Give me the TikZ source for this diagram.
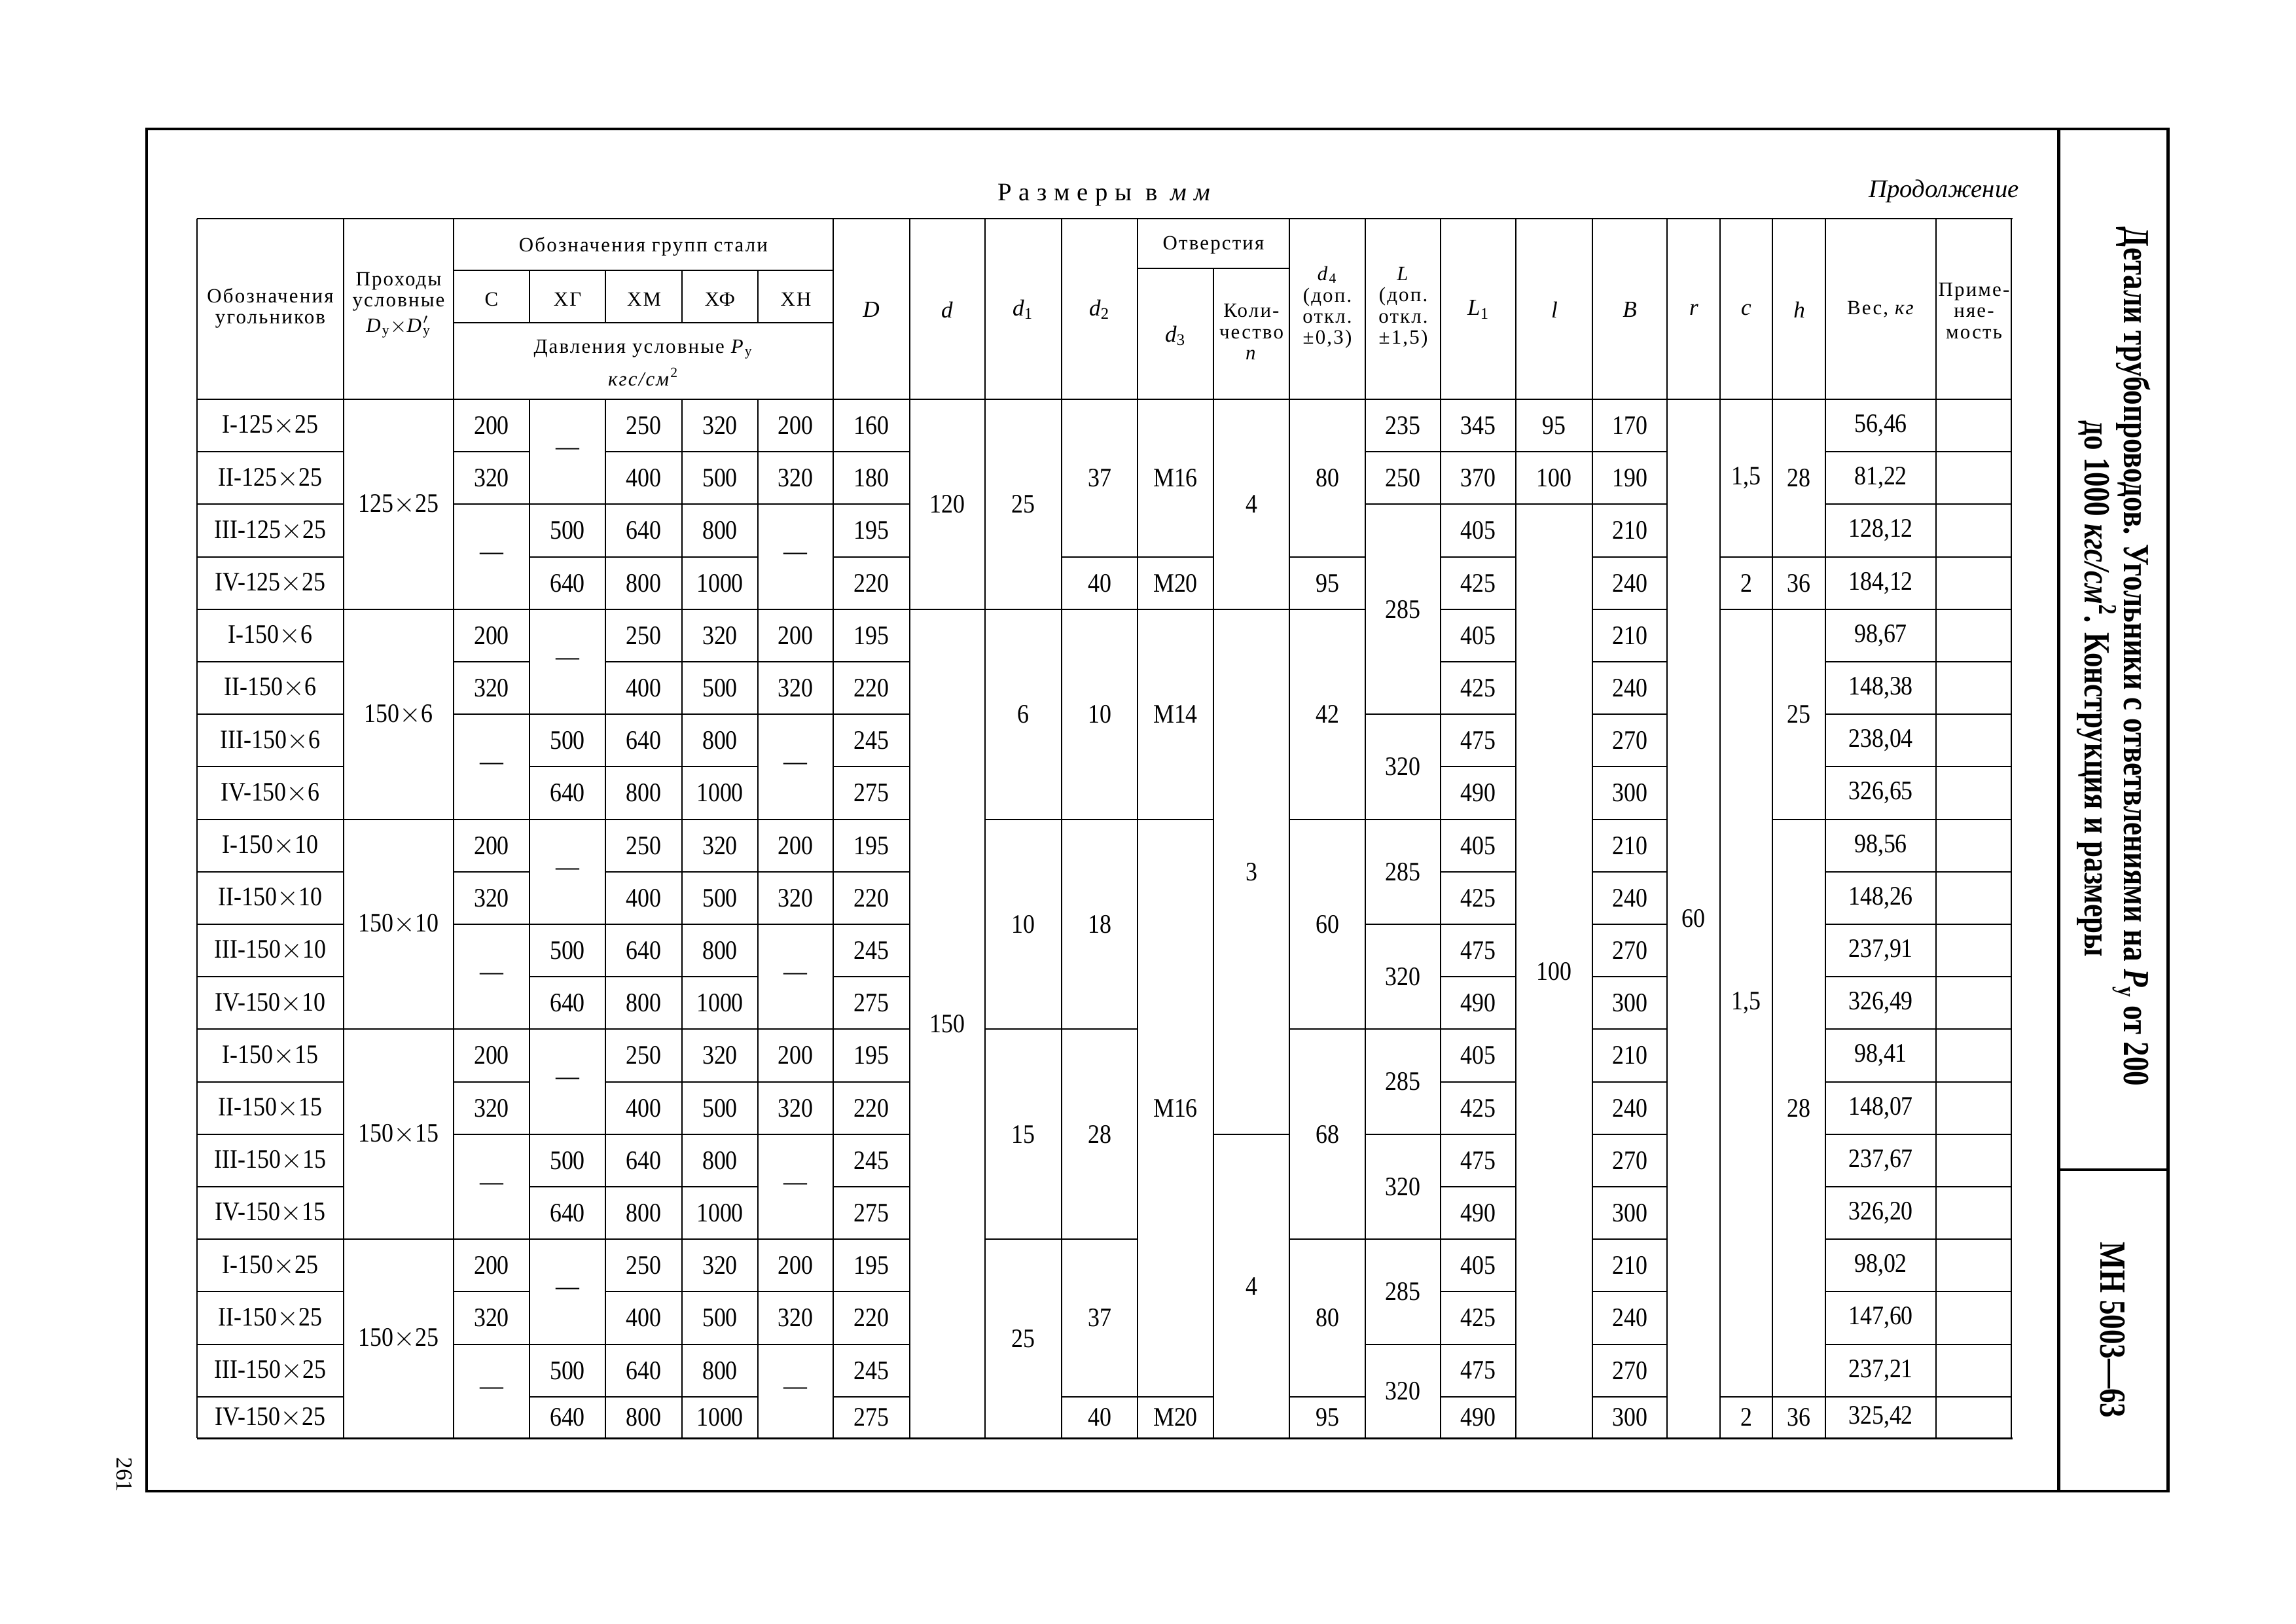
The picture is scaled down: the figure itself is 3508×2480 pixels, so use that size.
\documentclass[tikz,border=0pt]{standalone}
\usepackage{fontspec}
\setmainfont{Liberation Serif}
\newfontfamily\numf{Liberation Serif}[FakeStretch=0.88]
\newfontfamily\titlef{Liberation Serif}[FakeStretch=0.8]
\newfontfamily\hdrf{Liberation Serif}[LetterSpace=7]
\newfontfamily\spacedf{Liberation Serif}[LetterSpace=28]
\def\Xs{{301,525,693,809,925,1042,1158,1273,1390,1505,1622,1738,1854,1970,2086,2201,2316,2433,2547,2628,2708,2789,2958,3073}}
\newcommand\tc[4]{%
  \pgfmathsetmacro\tcxa{\Xs[#1]}%
  \pgfmathsetmacro\tcxb{\Xs[#1+1]}%
  \pgfmathsetmacro\tcx{(\tcxa+\tcxb)/2}%
  \pgfmathsetmacro\tcya{610+80.2*(#2-1)}%
  \pgfmathsetmacro\tcyb{ifthenelse(#3==20,2197,610+80.2*#3)}%
  \pgfmathsetmacro\tcy{(\tcya+\tcyb)/2}%
  \node[cell] (c#1r#2) at (\tcx,\tcy) {#4};%
}
\newcommand\hl[2]{%
  \pgfmathsetmacro\hxa{\Xs[#1]}%
  \pgfmathsetmacro\hxb{\Xs[#1+1]}%
  \pgfmathsetmacro\hy{610+80.2*#2}%
  \draw[tline] (\hxa,\hy) -- (\hxb,\hy);%
}
\newcommand\grp[6]{%
 \pgfmathtruncatemacro\ga{4*#1+1}\pgfmathtruncatemacro\gb{4*#1+2}%
 \pgfmathtruncatemacro\gc{4*#1+3}\pgfmathtruncatemacro\gd{4*#1+4}%
 \tc{0}{\ga}{\ga}{I-#2}\tc{0}{\gb}{\gb}{II-#2}\tc{0}{\gc}{\gc}{III-#2}\tc{0}{\gd}{\gd}{IV-#2}%
 \tc{1}{\ga}{\gd}{#2}%
 \tc{2}{\ga}{\ga}{200}\tc{2}{\gb}{\gb}{320}\tc{2}{\gc}{\gd}{—}%
 \tc{3}{\ga}{\gb}{—}\tc{3}{\gc}{\gc}{500}\tc{3}{\gd}{\gd}{640}%
 \tc{4}{\ga}{\ga}{250}\tc{4}{\gb}{\gb}{400}\tc{4}{\gc}{\gc}{640}\tc{4}{\gd}{\gd}{800}%
 \tc{5}{\ga}{\ga}{320}\tc{5}{\gb}{\gb}{500}\tc{5}{\gc}{\gc}{800}\tc{5}{\gd}{\gd}{1000}%
 \tc{6}{\ga}{\ga}{200}\tc{6}{\gb}{\gb}{320}\tc{6}{\gc}{\gd}{—}%
 \tc{7}{\ga}{\ga}{#3}\tc{7}{\gb}{\gb}{#4}\tc{7}{\gc}{\gc}{#5}\tc{7}{\gd}{\gd}{#6}%
}
\begin{document}
\begin{tikzpicture}[x=0.1mm,y=-0.1mm,
  tline/.style={line width=0.6pt},
  bline/.style={line width=0.85pt},
  fline/.style={line width=1.4pt},
  cell/.style={inner sep=0pt, font=\numf\fontsize{11.6}{12}\selectfont},
  hdr/.style={inner sep=0pt, align=center, font=\hdrf\fontsize{8.8}{9.2}\selectfont},
  hsym/.style={inner sep=0pt, font=\fontsize{10}{11}\selectfont},
  ttl/.style={inner sep=0pt, rotate=-90, font=\titlef\bfseries\fontsize{16}{18}\selectfont}]
\useasboundingbox (0,0) rectangle (3508,2480);
\fill[white] (0,0) rectangle (3508,2480);
% outer frame
\draw[fline] (224,197) rectangle (3312,2278);
\draw[fline] (3145,197) -- (3145,2278);
\draw[fline] (3145,1787) -- (3312,1787);
% captions
\node[inner sep=0pt, font=\spacedf\fontsize{11}{12}\selectfont] (cap) at (1692,298) {Размеры в \textit{мм}};
\node[inner sep=0pt, font=\itshape\fontsize{11}{12}\selectfont] (cont) at (2970,292) {Продолжение};
\node[inner sep=0pt, rotate=-90, font=\fontsize{10}{12}\selectfont] (pg) at (190,2253) {261};
% titles
\node[ttl] (t1) at (3257,1003) {Детали трубопроводов. Угольники с ответвлениями на \textit{P}\textsubscript{у} от 200};
\node[ttl] (t2) at (3203,1052) {до 1000 \textit{кгс/см}\textsuperscript{2}. Конструкция и размеры};
\node[ttl] (t3) at (3228,2032) {МН 5003—63};
% table rules
\draw[bline] (301,334) -- (3075,334);
\draw[tline] (301,610) -- (3073,610);
\draw[bline] (301,2197) -- (3075,2197);
\draw[tline] (693,413) -- (1273,413);
\draw[tline] (693,493) -- (1273,493);
\draw[tline] (1738,410) -- (1970,410);
\foreach \i in {0,1,2,7,8,9,10,11,13,14,...,23} {\pgfmathsetmacro\vx{\Xs[\i]}\draw[tline] (\vx,334) -- (\vx,2197);}
\foreach \i in {3,4,5,6} {\pgfmathsetmacro\vx{\Xs[\i]}\draw[tline] (\vx,413) -- (\vx,493); \draw[tline] (\vx,610) -- (\vx,2197);}
\draw[tline] (1854,410) -- (1854,2197);
\foreach \c/\ks in {0/{1,...,19}, 1/{4,8,12,16}, 2/{1,2,4,5,6,8,9,10,12,13,14,16,17,18}, 3/{2,3,4,6,7,8,10,11,12,14,15,16,18,19}, 4/{1,...,19}, 5/{1,...,19}, 6/{1,2,4,5,6,8,9,10,12,13,14,16,17,18}, 7/{1,...,19}, 8/{4}, 9/{4,8,12,16}, 10/{3,4,8,12,16,19}, 11/{3,4,8,19}, 12/{4,14}, 13/{3,4,8,12,16,19}, 14/{1,2,6,8,10,12,14,16,18}, 15/{1,...,19}, 16/{1,2}, 17/{1,...,19}, 19/{3,4,19}, 20/{3,4,8,19}, 21/{1,...,19}, 22/{1,...,19}}
  {\foreach \k in \ks {\hl{\c}{\k}}}
% header texts
\node[hdr] (h0) at (413,471) {Обозначения\\угольников};
\node[hdr] (h1) at (609,466) {Проходы\\условные\\[2pt]\textit{D}\textsubscript{у}$\times$\textit{D}\rlap{\textsuperscript{$\prime$}}\textsubscript{у}};
\node[hdr] (hg) at (983,377) {Обозначения групп стали};
\node[hdr] (hs1) at (751,457) {С};
\node[hdr] (hs2) at (867,457) {ХГ};
\node[hdr] (hs3) at (984,457) {ХМ};
\node[hdr] (hs4) at (1100,457) {ХФ};
\node[hdr] (hs5) at (1216,457) {ХН};
\node[hdr] (hp) at (983,555) {Давления условные \textit{P}\textsubscript{у}\\[3pt]\textit{кгс/см}\textsuperscript{2}};
\node[hsym] (hD) at (1331,473) {\textit{D}};
\node[hsym] (hd) at (1447,473) {\textit{d}};
\node[hsym] (hd1) at (1563,473) {\textit{d}\textsubscript{1}};
\node[hsym] (hd2) at (1680,473) {\textit{d}\textsubscript{2}};
\node[hdr] (ho) at (1854,375) {Отверстия};
\node[hsym] (hd3) at (1796,513) {\textit{d}\textsubscript{3}};
\node[hdr] (hn) at (1912,507) {Коли-\\чество\\\textit{n}};
\node[hdr] (hd4) at (2028,470) {\textit{d}\textsubscript{4}\\(доп.\\откл.\\±0,3)};
\node[hdr] (hL) at (2144,470) {\textit{L}\\(доп.\\откл.\\±1,5)};
\node[hsym] (hL1) at (2259,473) {\textit{L}\textsubscript{1}};
\node[hsym] (hl) at (2375,473) {\textit{l}};
\node[hsym] (hB) at (2490,473) {\textit{B}};
\node[hsym] (hr) at (2588,473) {\textit{r}};
\node[hsym] (hc) at (2668,473) {\textit{c}};
\node[hsym] (hh) at (2749,473) {\textit{h}};
\node[hdr] (hw) at (2874,473) {Вес, \textit{кг}};
\node[hdr] (hpr) at (3016,475) {Приме-\\няе-\\мость};
% body: groups
\grp{0}{125$\times$25}{160}{180}{195}{220}
\grp{1}{150$\times$6}{195}{220}{245}{275}
\grp{2}{150$\times$10}{195}{220}{245}{275}
\grp{3}{150$\times$15}{195}{220}{245}{275}
\grp{4}{150$\times$25}{195}{220}{245}{275}
% d
\tc{8}{1}{4}{120}\tc{8}{5}{20}{150}
% d1
\tc{9}{1}{4}{25}\tc{9}{5}{8}{6}\tc{9}{9}{12}{10}\tc{9}{13}{16}{15}\tc{9}{17}{20}{25}
% d2
\tc{10}{1}{3}{37}\tc{10}{4}{4}{40}\tc{10}{5}{8}{10}\tc{10}{9}{12}{18}\tc{10}{13}{16}{28}\tc{10}{17}{19}{37}\tc{10}{20}{20}{40}
% d3
\tc{11}{1}{3}{M16}\tc{11}{4}{4}{M20}\tc{11}{5}{8}{M14}\tc{11}{9}{19}{M16}\tc{11}{20}{20}{M20}
% n
\tc{12}{1}{4}{4}\tc{12}{5}{14}{3}\tc{12}{15}{20}{4}
% d4
\tc{13}{1}{3}{80}\tc{13}{4}{4}{95}\tc{13}{5}{8}{42}\tc{13}{9}{12}{60}\tc{13}{13}{16}{68}\tc{13}{17}{19}{80}\tc{13}{20}{20}{95}
% L
\tc{14}{1}{1}{235}\tc{14}{2}{2}{250}\tc{14}{3}{6}{285}\tc{14}{7}{8}{320}\tc{14}{9}{10}{285}\tc{14}{11}{12}{320}\tc{14}{13}{14}{285}\tc{14}{15}{16}{320}\tc{14}{17}{18}{285}\tc{14}{19}{20}{320}
% L1
\foreach \r/\v in {1/345,2/370,3/405,4/425,5/405,6/425,7/475,8/490,9/405,10/425,11/475,12/490,13/405,14/425,15/475,16/490,17/405,18/425,19/475,20/490} {\tc{15}{\r}{\r}{\v}}
% l
\tc{16}{1}{1}{95}\tc{16}{2}{2}{100}\tc{16}{3}{20}{100}
% B
\foreach \r/\v in {1/170,2/190,3/210,4/240,5/210,6/240,7/270,8/300,9/210,10/240,11/270,12/300,13/210,14/240,15/270,16/300,17/210,18/240,19/270,20/300} {\tc{17}{\r}{\r}{\v}}
% r
\tc{18}{1}{20}{60}
% c
\tc{19}{1}{3}{1,5}\tc{19}{4}{4}{2}\tc{19}{5}{19}{1,5}\tc{19}{20}{20}{2}
% h
\tc{20}{1}{3}{28}\tc{20}{4}{4}{36}\tc{20}{5}{8}{25}\tc{20}{9}{19}{28}\tc{20}{20}{20}{36}
% weight
\foreach \r/\v in {1/{56,46},2/{81,22},3/{128,12},4/{184,12},5/{98,67},6/{148,38},7/{238,04},8/{326,65},9/{98,56},10/{148,26},11/{237,91},12/{326,49},13/{98,41},14/{148,07},15/{237,67},16/{326,20},17/{98,02},18/{147,60},19/{237,21},20/{325,42}} {\tc{21}{\r}{\r}{\v}}
\end{tikzpicture}
\end{document}
